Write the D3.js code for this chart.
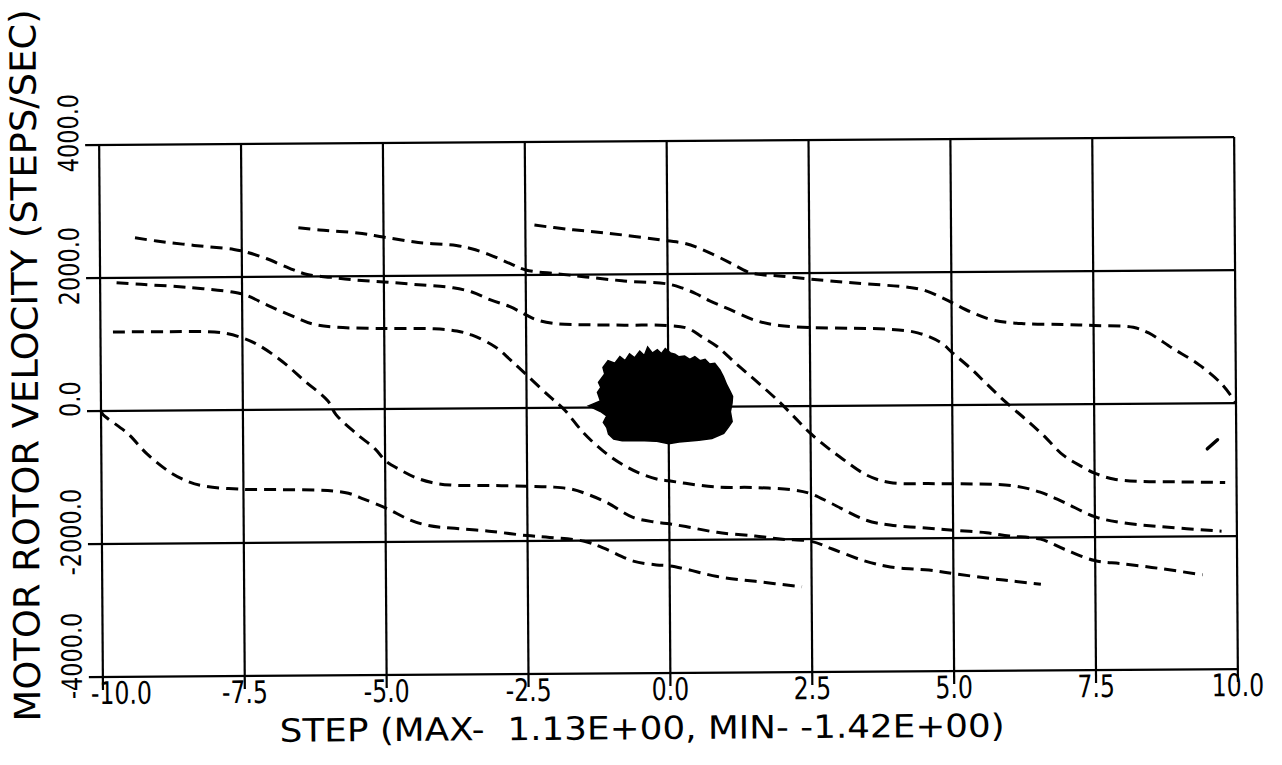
<!DOCTYPE html>
<html>
<head>
<meta charset="utf-8">
<script src="https://cdn.jsdelivr.net/npm/d3@7"></script>
<style>
  html, body { margin: 0; padding: 0; background: #fff; }
  svg { display: block; }
  text { font-family: "DejaVu Sans", "Liberation Sans", sans-serif; fill: #000; }
</style>
</head>
<body>
<svg id="chart" width="1282" height="765"></svg>
<script>
// ---- axis definitions ----
const xTicks = [-10, -7.5, -5, -2.5, 0, 2.5, 5, 7.5, 10];
const xTickLabels = ["-10.0", "-7.5", "-5.0", "-2.5", "0.0", "2.5", "5.0", "7.5", "10.0"];
const yTicks = [-4000, -2000, 0, 2000, 4000];
const yTickLabels = ["-4000.0", "-2000.0", "0.0", "2000.0", "4000.0"];
const xTitle = "STEP (MAX-  1.13E+00, MIN- -1.42E+00)";
const yTitle = "MOTOR ROTOR VELOCITY (STEPS/SEC)";

// ---- phase-plane trajectories: [step, velocity] ----
const trajT1 = [[-9.38,2600],[-9.0,2550],[-8.34,2480],[-7.64,2415],[-7.43,2375],[-7.07,2275],[-6.66,2125],[-6.35,2030],[-5.93,1985],[-5.59,1950],[-5.0,1910],[-4.39,1865],[-3.78,1815],[-3.45,1750],[-3.11,1625],[-2.78,1525],[-2.5,1400],[-2.31,1325],[-1.98,1265],[-1.44,1245],[-0.77,1235],[0,1225],[0.35,1180],[0.6,1050],[0.87,900],[1.21,633],[1.55,380],[1.96,60],[2.23,-177],[2.5,-413],[2.84,-658],[3.01,-766],[3.48,-1043],[3.89,-1159],[4.57,-1179],[5.04,-1184],[6.06,-1220],[6.54,-1320],[6.95,-1472],[7.51,-1698],[7.96,-1784],[8.64,-1850],[9.73,-1925]];
const trajT2 = [[-6.5,2735],[-6.13,2700],[-5.46,2650],[-5.0,2585],[-4.39,2500],[-3.72,2450],[-3.45,2400],[-3.11,2300],[-2.78,2175],[-2.5,2075],[-1.94,2015],[-1.44,1965],[-0.77,1900],[0,1850],[0.25,1790],[0.5,1700],[0.73,1595],[1.07,1468],[1.55,1291],[1.96,1215],[2.53,1180],[3.25,1165],[3.86,1149],[4.4,1089],[4.81,937],[5.01,785],[5.35,532],[5.62,304],[5.96,25],[6.3,-228],[6.6,-464],[6.95,-766],[7.28,-942],[7.51,-1043],[7.83,-1129],[8.3,-1169],[8.98,-1179],[9.8,-1194]];
const trajT3 = [[-2.34,2750],[-1.77,2685],[-1.1,2625],[0,2500],[0.3,2460],[0.6,2370],[1.07,2177],[1.41,2025],[1.6,1985],[1.96,1960],[2.5,1909],[3.25,1848],[4.26,1772],[4.54,1722],[4.94,1570],[5.35,1392],[5.76,1266],[6.3,1215],[6.98,1200],[7.51,1180],[8.2,1149],[8.47,1063],[8.88,835],[9.35,582],[9.76,278],[10,0]];
const trajB1 = [[-9.71,1925],[-9.28,1900],[-8.47,1850],[-7.67,1775],[-7.43,1725],[-7.0,1550],[-6.53,1375],[-6.26,1285],[-5.86,1235],[-5.0,1210],[-4.12,1200],[-3.72,1165],[-3.45,1100],[-3.05,925],[-2.78,725],[-2.5,500],[-2.1,175],[-1.84,-25],[-1.5,-380],[-1.17,-646],[-0.84,-848],[-0.5,-1000],[-0.17,-1091],[0,-1110],[0.29,-1150],[0.84,-1209],[1.51,-1220],[2.19,-1260],[2.5,-1320],[2.87,-1472],[3.47,-1724],[3.89,-1799],[4.57,-1850],[5.04,-1885],[5.59,-1925],[5.99,-1976],[6.54,-2026],[6.95,-2177],[7.49,-2354],[7.96,-2404],[8.64,-2480],[9.39,-2580]];
const trajC1 = [[-9.78,1185],[-8.81,1185],[-7.87,1165],[-7.47,1075],[-7.2,965],[-6.8,725],[-6.4,425],[-6.0,125],[-5.86,-80],[-5.5,-370],[-5.18,-596],[-4.98,-788],[-4.72,-924],[-4.45,-1040],[-4.18,-1111],[-3.85,-1151],[-3.18,-1161],[-2.51,-1177],[-2.04,-1192],[-1.71,-1227],[-1.44,-1303],[-1.1,-1429],[-0.64,-1656],[-0.23,-1732],[0,-1757],[0.29,-1800],[0.84,-1890],[1.51,-1950],[1.99,-2000],[2.5,-2036],[2.87,-2152],[3.41,-2328],[3.89,-2429],[4.57,-2480],[5.04,-2540],[5.59,-2606],[6.06,-2656],[6.54,-2706]];
const trajD1 = [[-10,0],[-9.97,-50],[-9.53,-343],[-9.2,-646],[-8.8,-924],[-8.46,-1076],[-8.19,-1141],[-7.53,-1192],[-6.86,-1202],[-6.19,-1212],[-5.92,-1227],[-5.65,-1263],[-5.38,-1353],[-4.98,-1495],[-4.58,-1667],[-4.25,-1757],[-3.85,-1798],[-3.18,-1848],[-2.51,-1919],[-2.11,-1949],[-1.5,-2010],[-1.17,-2111],[-0.64,-2313],[-0.23,-2373],[0,-2389],[0.29,-2440],[0.84,-2555],[1.51,-2631],[2.33,-2717]];
const trajFragment = [[9.49,-685],[9.67,-550]];

// envelope of the captured oscillation around the detent at step 0
const captureEnvelope = [[-1.41,25],[-1.20,100],[-1.25,226],[-1.19,301],[-1.23,377],[-1.12,502],[-1.15,602],[-1.06,703],[-0.94,663],[-0.85,763],[-0.76,703],[-0.68,803],[-0.59,743],[-0.50,843],[-0.42,778],[-0.36,904],[-0.28,813],[-0.19,863],[-0.12,803],[-0.05,879],[0.04,813],[0.12,793],[0.19,753],[0.29,763],[0.38,713],[0.47,753],[0.56,693],[0.65,713],[0.73,643],[0.82,653],[0.91,552],[0.97,452],[1.03,326],[1.09,226],[1.13,151],[1.12,50],[1.09,-75],[1.12,-226],[1.06,-301],[0.97,-402],[0.76,-477],[0.53,-502],[0.18,-527],[0,-552],[-0.23,-512],[-0.53,-502],[-0.82,-502],[-0.97,-477],[-1.06,-402],[-1.09,-301],[-1.15,-226],[-1.09,-126],[-1.20,-60]];

const dashedTrajectories = [trajT1, trajT2, trajT3, trajB1, trajC1, trajD1];

// ---- layout ----
const svg = d3.select("#chart");
const x = d3.scaleLinear().domain([-10, 10]).range([101, 1236]);
const y = d3.scaleLinear().domain([-4000, 4000]).range([673, 141]);
const [x0, x1] = x.range();
const [y0, y1] = y.range();

// narrow plotter lettering: squeeze glyphs horizontally
function squeeze(sel, factor) {
  sel.each(function () {
    const w = this.getComputedTextLength();
    d3.select(this).attr("textLength", w * factor).attr("lengthAdjust", "spacingAndGlyphs");
  });
}

// the sheet sits slightly skewed
const g = svg.append("g").attr("transform", `rotate(-0.4, ${(x0 + x1) / 2}, ${(y0 + y1) / 2})`);

// grid and frame
g.append("g").selectAll("line").data(xTicks).join("line")
  .attr("x1", d => x(d)).attr("x2", d => x(d))
  .attr("y1", y1).attr("y2", y0 + 13)
  .attr("stroke", "#000").attr("stroke-width", 2.2);
g.append("g").selectAll("line").data(yTicks).join("line")
  .attr("x1", x0 - 14).attr("x2", x1)
  .attr("y1", d => y(d)).attr("y2", d => y(d))
  .attr("stroke", "#000").attr("stroke-width", 2.2);

// tick labels along x
const xl = g.append("g").selectAll("text").data(xTicks).join("text")
  .attr("x", d => x(d)).attr("y", y0 + 27)
  .attr("text-anchor", "middle")
  .attr("font-size", 31)
  .text((d, i) => xTickLabels[i]);
squeeze(xl, 0.76);
xl.each(function () {
  const t = d3.select(this);
  const w = +t.attr("textLength");
  const cx = +t.attr("x");
  if (cx - w / 2 < x0 - 12) t.attr("x", x0 - 12 + w / 2);
});

// tick labels along y (rotated)
const yLabelX = 80;
const yl = g.append("g").selectAll("text").data(yTicks).join("text")
  .attr("font-size", 28)
  .attr("text-anchor", "middle")
  .attr("transform", d => `translate(${yLabelX}, ${y(d) - 12}) rotate(-90)`)
  .text((d, i) => yTickLabels[i]);
squeeze(yl, 0.8);
yl.each(function (d) {
  const w = +d3.select(this).attr("textLength");
  const cy = y(d) - 12;
  if (cy + w / 2 > y0 + 22) {
    d3.select(this).attr("transform", `translate(${yLabelX}, ${y0 + 22 - w / 2}) rotate(-90)`);
  }
});

// axis titles
g.append("text")
  .attr("x", 640).attr("y", 739)
  .attr("text-anchor", "middle")
  .attr("font-size", 32)
  .attr("textLength", 725).attr("lengthAdjust", "spacingAndGlyphs")
  .style("white-space", "pre")
  .text(xTitle);
g.append("text")
  .attr("transform", "translate(38, 361) rotate(-90)")
  .attr("text-anchor", "middle")
  .attr("font-size", 36)
  .attr("textLength", 712).attr("lengthAdjust", "spacingAndGlyphs")
  .text(yTitle);

// trajectories
const line = d3.line().x(d => x(d[0])).y(d => y(d[1])).curve(d3.curveCatmullRom.alpha(0.5));
g.append("g").selectAll("path").data(dashedTrajectories).join("path")
  .attr("d", line)
  .attr("fill", "none")
  .attr("stroke", "#000")
  .attr("stroke-width", 3)
  .attr("stroke-dasharray", "12 7");

g.append("path")
  .attr("d", d3.line().x(d => x(d[0])).y(d => y(d[1]))(trajFragment))
  .attr("fill", "none").attr("stroke", "#000").attr("stroke-width", 3.5)
  .attr("stroke-linecap", "round");

g.append("path")
  .attr("d", d3.line().x(d => x(d[0])).y(d => y(d[1])).curve(d3.curveLinearClosed)(captureEnvelope))
  .attr("fill", "#000").attr("stroke", "#000").attr("stroke-width", 1.5)
  .attr("stroke-linejoin", "miter");
</script>
</body>
</html>
